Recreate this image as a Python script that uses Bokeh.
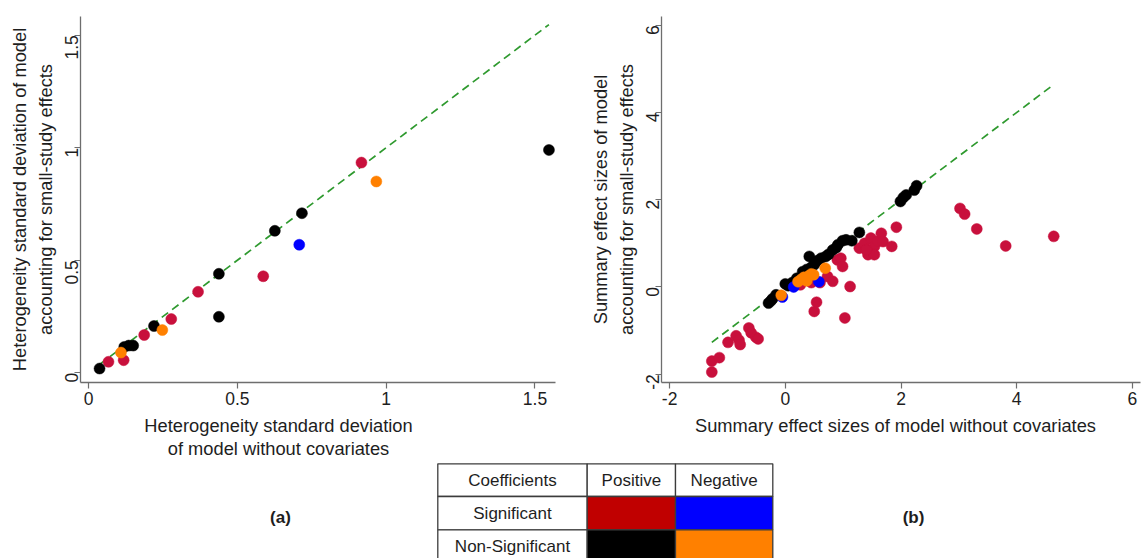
import math
from bokeh.plotting import figure
from bokeh.models import Range1d, FixedTicker
from bokeh.layouts import row, column
from bokeh.core.properties import value
from bokeh.embed import file_html
from bokeh.resources import INLINE

FONT = "Liberation Sans"

# ---- (a) heterogeneity standard deviations ----
a_sig_pos_x = [0.067, 0.118, 0.187, 0.278, 0.368, 0.587, 0.917]
a_sig_pos_y = [0.049, 0.056, 0.168, 0.239, 0.360, 0.429, 0.934]
a_ns_pos_x = [0.037, 0.120, 0.135, 0.150, 0.220, 0.438, 0.438, 0.626, 0.717, 1.547]
a_ns_pos_y = [0.019, 0.115, 0.121, 0.121, 0.208, 0.440, 0.249, 0.631, 0.709, 0.990]
a_sig_neg_x = [0.708]
a_sig_neg_y = [0.569]
a_ns_neg_x = [0.109, 0.248, 0.967]
a_ns_neg_y = [0.090, 0.190, 0.850]
a_ticks = [0, 0.5, 1, 1.5]
a_tick_labels = ["0", "0.5", "1", "1.5"]
a_ytitle = "Heterogeneity standard deviation of model\naccounting for small-study effects"
a_xtitle = ["Heterogeneity standard deviation", "of model without covariates"]

# ---- (b) summary effect sizes ----
b_sig_pos_x = [-1.27, -1.27, -1.14, -0.99, -0.85, -0.80, -0.78, -0.63, -0.59, -0.51, -0.47,
               0.26, 0.45, 0.54, 0.50, 0.60, 0.73, 0.82, 0.90, 0.96, 0.99, 1.03, 1.12,
               1.28, 1.37, 1.43, 1.48, 1.54, 1.54, 1.40, 1.60, 1.66, 1.69, 1.84, 1.92,
               3.02, 3.10, 3.31, 3.81, 4.64]
b_sig_pos_y = [-1.70, -1.95, -1.62, -1.27, -1.12, -1.22, -1.32, -0.94, -1.05, -1.15, -1.19,
               0.05, 0.10, -0.35, -0.56, 0.10, 0.24, 0.13, 0.62, 0.66, 0.47, -0.71, 0.01,
               0.89, 1.00, 0.74, 1.12, 0.93, 0.74, 0.85, 1.05, 1.23, 1.04, 0.93, 1.37,
               1.80, 1.67, 1.33, 0.94, 1.16]
b_ns_pos_x = [-0.29, -0.25, -0.22, -0.16, 0.00, 0.05, 0.12, 0.20, 0.30, 0.37, 0.415, 0.45,
              0.50, 0.55, 0.62, 0.70, 0.75, 0.82, 0.88, 0.91, 0.99, 1.05, 1.15, 1.28,
              1.99, 2.04, 2.09, 2.23, 2.27]
b_ns_pos_y = [-0.37, -0.32, -0.27, -0.18, 0.07, 0.03, 0.10, 0.20, 0.35, 0.40, 0.70, 0.45,
              0.51, 0.60, 0.66, 0.70, 0.75, 0.85, 0.90, 0.97, 1.06, 1.08, 1.06, 1.25,
              1.96, 2.05, 2.11, 2.22, 2.32]
b_sig_neg_x = [-0.05, 0.145, 0.58]
b_sig_neg_y = [-0.23, 0.00, 0.12]
b_ns_neg_x = [-0.07, 0.22, 0.27, 0.32, 0.37, 0.40, 0.45, 0.49, 0.69]
b_ns_neg_y = [-0.19, 0.12, 0.17, 0.22, 0.14, 0.25, 0.30, 0.28, 0.43]
b_ticks = [-2, 0, 2, 4, 6]
b_tick_labels = ["-2", "0", "2", "4", "6"]
b_ytitle = "Summary effect sizes of model\naccounting for small-study effects"
b_xtitle = ["Summary effect sizes of model without covariates"]

# ---- legend table ----
legend_cols = ["Coefficients", "Positive", "Negative"]
legend_rows = ["Significant", "Non-Significant"]
legend_colors = [["#c00000", "#0000ff"], ["#000000", "#ff8000"]]

MARK = {"sig_pos": "#c8103c", "ns_pos": "#000000", "sig_neg": "#0000ff", "ns_neg": "#ff8000"}
AXIS_COLOR = "#6e6e6e"
TEXT_COLOR = "#1e1e1e"
TOP_H = 413


def style_axes(p, ticks, labels, ytitle):
    for ax in (p.xaxis[0], p.yaxis[0]):
        ax.ticker = FixedTicker(ticks=ticks)
        ax.major_label_overrides = {t: s for t, s in zip(ticks, labels)}
        ax.axis_line_color = AXIS_COLOR
        ax.axis_line_width = 1.3
        ax.major_tick_line_color = AXIS_COLOR
        ax.major_tick_line_width = 1.2
        ax.major_tick_out = 6
        ax.major_tick_in = 0
        ax.minor_tick_line_color = None
        ax.major_label_text_font = FONT
        ax.major_label_text_font_size = "17.5px"
        ax.major_label_text_color = TEXT_COLOR
    p.xaxis[0].major_label_standoff = 3
    p.yaxis[0].major_label_standoff = 3
    p.yaxis[0].major_label_orientation = math.pi / 2
    p.yaxis[0].axis_label = ytitle
    p.yaxis[0].axis_label_text_font = FONT
    p.yaxis[0].axis_label_text_font_size = "18.3px"
    p.yaxis[0].axis_label_text_font_style = "normal"
    p.yaxis[0].axis_label_text_color = TEXT_COLOR
    p.yaxis[0].axis_label_standoff = 0
    p.xgrid.visible = False
    p.ygrid.visible = False
    p.outline_line_color = None


def add_points(p, groups, line_x):
    lo, hi = min(line_x), max(line_x)
    p.line([lo, hi], [lo, hi], line_color="#2f9a2f", line_width=1.7, line_dash="8 5")
    for key, xs, ys in groups:
        p.scatter(xs, ys, size=11, fill_color=MARK[key], line_color=MARK[key], line_width=0.5)


# ---- panel (a) ----
fa = figure(width=580, height=TOP_H, x_range=Range1d(-0.027, 1.569), y_range=Range1d(-0.043, 1.583),
            output_backend="svg", toolbar_location=None,
            min_border_left=80, min_border_right=25, min_border_top=14, min_border_bottom=TOP_H - 14 - 368)
style_axes(fa, a_ticks, a_tick_labels, a_ytitle)
add_points(fa, [("sig_pos", a_sig_pos_x, a_sig_pos_y), ("ns_pos", a_ns_pos_x, a_ns_pos_y),
                ("sig_neg", a_sig_neg_x, a_sig_neg_y), ("ns_neg", a_ns_neg_x, a_ns_neg_y)],
           a_sig_pos_x + a_ns_pos_x + a_sig_neg_x + a_ns_neg_x)

# ---- panel (b) ----
fb = figure(width=563, height=TOP_H, x_range=Range1d(-2.14, 6.14), y_range=Range1d(-2.19, 6.2),
            output_backend="svg", toolbar_location=None,
            min_border_left=81, min_border_right=3, min_border_top=16, min_border_bottom=TOP_H - 16 - 367)
style_axes(fb, b_ticks, b_tick_labels, b_ytitle)
add_points(fb, [("sig_pos", b_sig_pos_x, b_sig_pos_y), ("ns_pos", b_ns_pos_x, b_ns_pos_y),
                ("sig_neg", b_sig_neg_x, b_sig_neg_y), ("ns_neg", b_ns_neg_x, b_ns_neg_y)],
           b_sig_pos_x + b_ns_pos_x + b_sig_neg_x + b_ns_neg_x)

# ---- bottom strip: x titles, panel tags and colour key table (pixel coordinates) ----
fl = figure(width=1143, height=558 - TOP_H, x_range=Range1d(0, 1143), y_range=Range1d(558, TOP_H),
            output_backend="svg", toolbar_location=None, x_axis_type=None, y_axis_type=None,
            min_border_left=0, min_border_right=0, min_border_top=0, min_border_bottom=0)
fl.xgrid.visible = False
fl.ygrid.visible = False
fl.outline_line_color = None

title_x = [278] * len(a_xtitle) + [895] * len(b_xtitle)
title_y = [425 + 22.5 * i for i in range(len(a_xtitle))] + [425 + 22.5 * i for i in range(len(b_xtitle))]
fl.text(x=title_x, y=title_y, text=a_xtitle + b_xtitle, text_align="center", text_baseline="middle",
        text_font=value(FONT), text_font_size="18.3px", text_color=TEXT_COLOR)

col_edges = [437.3, 586.7, 675.0, 772.3]
row_edges = [463.3, 496.0, 529.3, 562.6]
lefts, rights, tops, bottoms, fills = [], [], [], [], []
for r in range(len(legend_rows) + 1):
    for c in range(len(legend_cols)):
        fill = "#ffffff"
        if r > 0 and c > 0:
            fill = legend_colors[r - 1][c - 1]
        lefts.append(col_edges[c]); rights.append(col_edges[c + 1])
        tops.append(row_edges[r]); bottoms.append(row_edges[r + 1])
        fills.append(fill)
fl.quad(left=lefts, right=rights, top=tops, bottom=bottoms, fill_color=fills,
        line_color="#3c3c3c", line_width=1.3)

tx, ty, tt = [], [], []
for c, name in enumerate(legend_cols):
    tx.append((col_edges[c] + col_edges[c + 1]) / 2); ty.append((row_edges[0] + row_edges[1]) / 2); tt.append(name)
for r, name in enumerate(legend_rows):
    tx.append((col_edges[0] + col_edges[1]) / 2); ty.append((row_edges[r + 1] + row_edges[r + 2]) / 2); tt.append(name)
fl.text(x=tx, y=ty, text=tt, text_align="center", text_baseline="middle",
        text_font=value(FONT), text_font_size="17px", text_color=TEXT_COLOR)

fl.text(x=[280, 913], y=[517, 517], text=["(a)", "(b)"], text_align="center", text_baseline="middle",
        text_font=value(FONT), text_font_size="17px", text_font_style="bold", text_color=TEXT_COLOR)

page = column(row(fa, fb), fl)
open("out.html", "w").write(file_html(page, INLINE))
